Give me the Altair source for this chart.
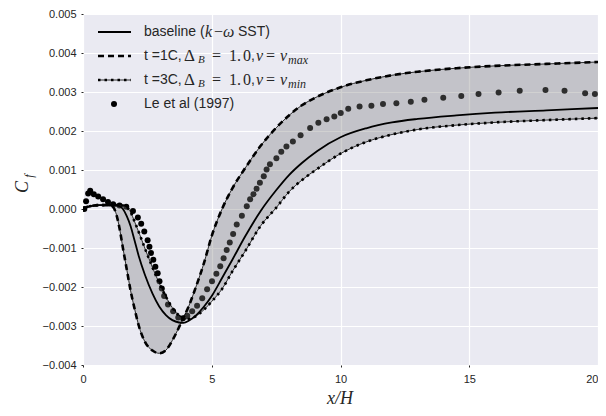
import altair as alt
import pandas as pd

# ---- data (Cf values in units of 1e-3) ----
x_sim = [0, 0.15, 0.35, 0.65, 1.0, 1.17, 1.3, 1.42, 1.55, 1.7, 1.85, 2.0, 2.17, 2.4, 2.7,
         2.96, 3.22, 3.47, 3.73, 3.9, 4.12, 4.4, 4.7, 5.0, 5.4, 5.8, 6.3, 6.9, 7.5, 8.0,
         8.5, 9.1, 10, 11, 12, 13, 14.5, 16, 18, 20]
cf_base = [0, 0.05, 0.08, 0.10, 0.10, 0.10, 0.09, 0.07, 0.0, -0.18, -0.44, -0.8, -1.22, -1.68, -2.17,
           -2.5, -2.72, -2.85, -2.91, -2.92, -2.86, -2.72, -2.5, -2.23, -1.77, -1.3, -0.7, -0.05, 0.48, 0.87,
           1.18, 1.49, 1.84, 2.07, 2.22, 2.31, 2.40, 2.47, 2.53, 2.59]
cf_vmax = [0, 0.05, 0.08, 0.10, 0.10, 0.05, -0.15, -0.5, -1.0, -1.55, -2.1, -2.55, -3.0, -3.4, -3.63,
           -3.70, -3.62, -3.37, -3.03, -2.79, -2.47, -1.97, -1.38, -0.69, 0.0, 0.53, 1.05, 1.62, 2.08, 2.40,
           2.66, 2.88, 3.12, 3.30, 3.43, 3.52, 3.61, 3.67, 3.72, 3.77]
cf_vmin = [0, 0.05, 0.08, 0.10, 0.10, 0.10, 0.10, 0.10, 0.09, 0.04, -0.08, -0.32, -0.6, -1.0, -1.5,
           -1.9, -2.25, -2.53, -2.73, -2.81, -2.82, -2.74, -2.58, -2.37, -2.05, -1.6, -1.08, -0.43, 0.03, 0.44,
           0.74, 1.03, 1.42, 1.72, 1.91, 2.04, 2.15, 2.22, 2.28, 2.33]

x_le = [0.05, 0.12, 0.20, 0.28, 0.42, 0.59, 0.78, 0.97, 1.17, 1.42, 1.68, 1.94, 2.13, 2.26, 2.38,
        2.51, 2.58, 2.64, 2.73, 2.81, 2.90, 2.97, 3.06, 3.15, 3.30, 3.50, 3.70, 3.88, 4.05, 4.24,
        4.43, 4.63, 4.82, 5.01, 5.18, 5.33, 5.46, 5.58, 5.70, 5.83, 5.97, 6.17, 6.36, 6.49, 6.62,
        6.74, 6.87, 7.02, 7.13, 7.26, 7.51, 7.70, 7.90, 8.15, 8.45, 8.82, 9.14, 9.46, 9.76, 10.01,
        10.30, 10.74, 11.20, 11.65, 12.17, 12.73, 13.26, 13.99, 14.69, 15.36, 16.14, 16.96, 17.96, 18.70, 19.50,
        19.88]
cf_le = [0.00, 0.20, 0.40, 0.47, 0.38, 0.32, 0.25, 0.18, 0.12, 0.09, 0.06, -0.05, -0.22, -0.38, -0.58,
         -0.80, -0.97, -1.13, -1.30, -1.48, -1.65, -1.85, -2.04, -2.23, -2.45, -2.62, -2.78, -2.80, -2.74, -2.62,
         -2.48, -2.29, -2.06, -1.85, -1.66, -1.47, -1.26, -1.05, -0.86, -0.64, -0.40, -0.17, 0.07, 0.25, 0.38,
         0.52, 0.67, 0.84, 1.01, 1.15, 1.30, 1.47, 1.60, 1.73, 1.89, 2.08, 2.21, 2.30, 2.37, 2.46,
         2.57, 2.63, 2.65, 2.69, 2.71, 2.75, 2.80, 2.85, 2.90, 2.95, 2.99, 3.03, 3.05, 3.03, 2.97,
         2.95]

x_ticks = [0, 5, 10, 15, 20]
y_ticks = [-4, -3, -2, -1, 0, 1, 2, 3, 4, 5]

sim = pd.DataFrame({"x": x_sim, "base": cf_base, "vmax": cf_vmax, "vmin": cf_vmin})
le = pd.DataFrame({"x": x_le, "cf": cf_le})

W, H = 515, 351
TOP = 6
TXT = "#262626"
SANS = "Liberation Sans"
SERIF = "Liberation Serif"

xs = alt.Scale(domain=[0, 20], nice=False, zero=False)
ys = alt.Scale(domain=[-4, 5], nice=False, zero=False)
xax = alt.Axis(values=x_ticks, format="d", title=None, labelFlush=False,
               labelAlign={"condition": {"test": "datum.value >= 20", "value": "right"}, "value": "center"})
yax = alt.Axis(values=y_ticks, title=None, labelFlush=False,
               labelExpr="format(datum.value / 1000, '.3f')")

X = alt.X("x:Q", scale=xs, axis=xax)

def Y(f):
    return alt.Y(f"{f}:Q", scale=ys, axis=yax)

dots = alt.Chart(le).mark_circle(color="black", opacity=1, size=36, clip=True).encode(x=X, y=Y("cf"))
band = alt.Chart(sim).mark_area(color="#808080", opacity=0.36, interpolate="monotone", clip=True).encode(
    x=X, y=Y("vmax"), y2="vmin:Q")
thin_max = alt.Chart(sim).mark_line(color="black", strokeWidth=0.8, interpolate="monotone", clip=True).encode(x=X, y=Y("vmax"))
thin_min = alt.Chart(sim).mark_line(color="black", strokeWidth=0.8, interpolate="monotone", clip=True).encode(x=X, y=Y("vmin"))
base = alt.Chart(sim).mark_line(color="black", strokeWidth=1.8, interpolate="monotone", clip=True).encode(x=X, y=Y("base"))
dash_max = alt.Chart(sim).mark_line(color="black", strokeWidth=2.6, strokeDash=[6, 4], interpolate="monotone", clip=True).encode(x=X, y=Y("vmax"))
dot_min = alt.Chart(sim).mark_line(color="black", strokeWidth=2.6, strokeDash=[2.5, 4], interpolate="monotone", clip=True).encode(x=X, y=Y("vmin"))


def txt(s, x, y, font=SANS, size=14, style="normal", angle=0, align="left"):
    return alt.Chart(alt.Data(values=[{"t": s}])).mark_text(
        font=font, fontSize=size, fontStyle=style, angle=angle, align=align,
        baseline="middle", color=TXT).encode(x=alt.value(x), y=alt.value(y), text="t:N")


def rule(x1, x2, y, width, dash=None):
    kw = dict(color="black", strokeWidth=width)
    if dash:
        kw["strokeDash"] = dash
    return alt.Chart(alt.Data(values=[{}])).mark_rule(**kw).encode(
        x=alt.value(x1), x2=alt.value(x2), y=alt.value(y))


# legend rows (plot-relative pixel positions)
legend_y = [18, 42, 66, 90]
legend = [
    rule(15, 48, legend_y[0], 2),
    rule(15, 48, legend_y[1], 2.6, [6, 4]),
    rule(15, 48, legend_y[2], 0.8),
    rule(15, 48, legend_y[2], 2.6, [2.5, 4]),
    alt.Chart(alt.Data(values=[{}])).mark_circle(color="black", size=36, opacity=1).encode(
        x=alt.value(31), y=alt.value(legend_y[3])),
    txt("baseline (", 61, legend_y[0]),
    txt("k", 122, legend_y[0], SERIF, 16, "italic"),
    txt("\u2212", 131, legend_y[0], SERIF, 16),
    txt("\u03c9", 140, legend_y[0], SERIF, 16, "italic"),
    txt("SST)", 155, legend_y[0]),
    txt("Le et al (1997)", 61, legend_y[3]),
]
for yy, lab, sub in [(legend_y[1], "t =1C,", "max"), (legend_y[2], "t =3C,", "min")]:
    legend += [
        txt(lab, 61, yy),
        txt("\u0394", 101, yy, SERIF, 17),
        txt("B", 115, yy + 4, SERIF, 11, "italic"),
        txt("=", 129, yy, SERIF, 16),
        txt("1.", 146, yy, SERIF, 16),
        txt("0", 160, yy, SERIF, 16),
        txt(",", 168, yy),
        txt("v", 173, yy, SERIF, 16, "italic"),
        txt("=", 183, yy, SERIF, 16),
        txt("v", 197, yy, SERIF, 16, "italic"),
        txt(sub, 205, yy + 4, SERIF, 12, "italic"),
    ]

titles = [
    txt("C", -60, 173, SERIF, 18, "italic", 270, "center"),
    txt("f", -54, 162, SERIF, 12, "italic", 270, "center"),
    txt("x/H", 257, 385, SERIF, 18, "italic", 0, "center"),
]

chart = alt.layer(dots, band, thin_max, thin_min, base, dash_max, dot_min, *legend, *titles).properties(
    width=W, height=H,
    autosize=alt.AutoSizeParams(type="none"),
    padding={"left": 75, "top": TOP, "right": 0, "bottom": 42},
).configure_view(fill="#EAEAF2", stroke=None).configure_axis(
    grid=True, gridColor="white", gridWidth=1.2, domain=False,
    tickColor=TXT, tickSize=2, labelFont=SANS, labelFontSize=11, labelColor=TXT,
    labelPadding=5,
).configure_axisX(labelPadding=6)

chart.save("out.html", embed_options={"renderer": "svg", "actions": False})
